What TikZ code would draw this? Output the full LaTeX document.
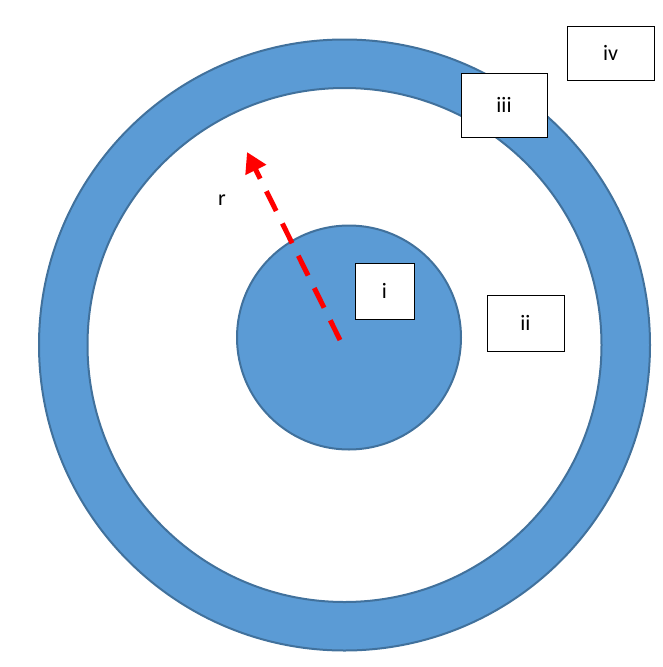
\documentclass[tikz,border=0pt]{standalone}
\usepackage{fontspec}
\setmainfont{Carlito}
\usetikzlibrary{arrows.meta}
\begin{document}
\begin{tikzpicture}[x=1pt,y=-1pt,
  disk/.style={fill={rgb,255:red,91;green,155;blue,213},draw={rgb,255:red,65;green,113;blue,156},line width=2pt},
  lbl/.style={draw=black,fill=white,line width=0.8pt,font=\fontsize{22}{26}\selectfont,inner sep=0pt}]
\useasboundingbox (0,0) rectangle (663,667);
\path[disk,even odd rule] (344.5,345) circle (305.5) (344.5,345) circle (257);
\node[disk,circle,minimum size=224pt,inner sep=0pt] (core) at (349,337.5) {};
\coordinate (rs) at (340,340);
\coordinate (re) at (247,152);
\draw[red,line width=5pt,dash pattern=on 22pt off 14pt,-{Triangle[length=20pt,width=22pt]}] (rs) -- (re);
\node[font=\fontsize{22}{26}\selectfont] (r) at (222,200) {r};
\node[lbl,minimum width=59pt,minimum height=56pt] (i) at (384.5,291) {i};
\node[lbl,minimum width=77pt,minimum height=56pt] (ii) at (525.5,323) {ii};
\node[lbl,minimum width=86pt,minimum height=64pt] (iii) at (504,105) {iii};
\node[lbl,minimum width=87pt,minimum height=54pt] (iv) at (610.5,53) {iv};
\end{tikzpicture}
\end{document}
